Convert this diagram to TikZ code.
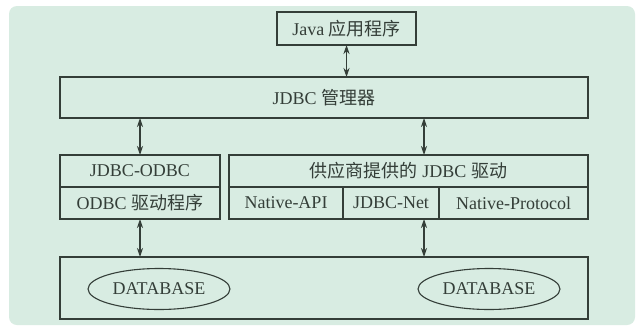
\documentclass[tikz,border=0pt]{standalone}
\usepackage{fontspec}
\setmainfont{Liberation Serif}
\newfontfamily\cjk{Noto Sans CJK SC}
\usetikzlibrary{arrows.meta,positioning,shapes.geometric}
\definecolor{panel}{RGB}{216,236,226}
\definecolor{ink}{RGB}{52,62,56}
\tikzset{
  box/.style ={rectangle,draw=ink,line width=1.1pt,outer sep=0pt,inner sep=0pt,
               text=ink,font=\fontsize{18}{20}\selectfont},
  db/.style  ={ellipse,draw=ink,line width=1.1pt,minimum width=142pt,minimum height=41pt,
               inner sep=0pt,text=ink,font=\fontsize{18}{20}\selectfont},
  link/.style={<->,draw=ink,line width=1.1pt},
  >={Stealth[length=9pt,width=6pt]}
}

\begin{document}
\begin{tikzpicture}[x=1pt,y=-1pt]

\useasboundingbox (0,0) rectangle (640,327);
\fill[white] (0,0) rectangle (640,327);
\fill[panel,rounded corners=8pt] (9,6) rectangle (635,325);

% -------- application and manager --------
\node[box, minimum width=139pt, minimum height=33pt] (java) at (346.5,28.5) {Java {\cjk 应用程序}};
\node[box, minimum width=528pt, minimum height=41pt] (mgr) at (324,97.5) {JDBC {\cjk 管理器}};

% -------- bridge driver --------
\node[box, minimum width=160pt, minimum height=32pt] (jo) at (140,171) {JDBC-ODBC};
\node[box, minimum width=160pt, minimum height=32pt, below=0pt of jo] (odbc) {ODBC {\cjk 驱动程序}};

% -------- vendor drivers --------
\node[box, minimum width=359pt, minimum height=32pt] (vendor) at (408.5,171) {{\cjk 供应商提供的} JDBC {\cjk 驱动}};
\node[box, minimum width=114pt, minimum height=32pt, below right=0pt and 0pt of vendor.south west] (napi) {Native-API};
\node[box, minimum width=96pt, minimum height=32pt, right=0pt of napi] (jnet) {JDBC-Net};
\node[box, minimum width=149pt, minimum height=32pt, right=0pt of jnet] (nproto) {Native-Protocol};

% -------- databases --------
\node[box, minimum width=528pt, minimum height=62pt] (db) at (324,288) {};
\node[db] (db1) at (159,289) {DATABASE};
\node[db] (db2) at (489,289) {DATABASE};

% wiring
\coordinate (tap) at (424,0);
\draw[link] (java.south) -- (java.south |- mgr.north);
\draw[link] (jo.north |- mgr.south) -- (jo.north);
\draw[link] (tap |- mgr.south) -- (tap |- vendor.north);
\draw[link] (odbc.south) -- (odbc.south |- db.north);
\draw[link] (tap |- jnet.south) -- (tap |- db.north);

\end{tikzpicture}
\end{document}
